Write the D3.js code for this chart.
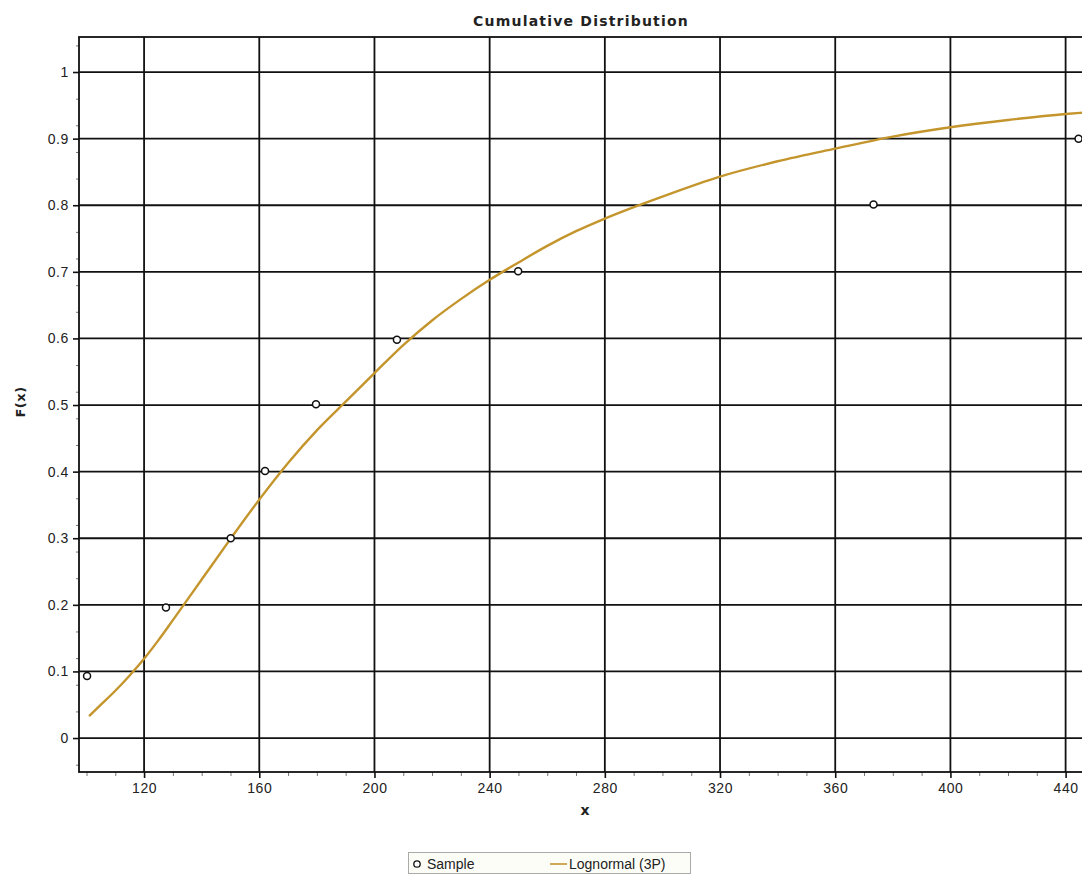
<!DOCTYPE html>
<html>
<head>
<meta charset="utf-8">
<title>Cumulative Distribution</title>
<style>
  body { margin: 0; background: #fff; }
  svg { display: block; }
</style>
</head>
<body>
<script src="https://d3js.org/d3.v7.min.js"></script>
<script>
// sample points (x, F(x))
var sampleX = [100.2, 127.6, 150.1, 162.0, 179.7, 207.8, 249.9, 373.3, 444.5];
var sampleF = [0.093, 0.196, 0.300, 0.401, 0.501, 0.598, 0.701, 0.801, 0.900];

// fitted Lognormal (3P) curve
var curveX = [100.9, 105, 110, 115, 120, 125, 130, 140, 150, 160, 170, 180, 190, 200,
              210, 220, 230, 240, 250, 260, 270, 280, 300, 320, 340, 360, 380, 400, 420, 440, 446];
var curveF = [0.033, 0.050, 0.071, 0.094, 0.119, 0.147, 0.177, 0.238, 0.299, 0.358, 0.413, 0.462, 0.505, 0.548,
              0.590, 0.627, 0.659, 0.688, 0.714, 0.739, 0.761, 0.780, 0.813, 0.843, 0.866, 0.885, 0.903, 0.917, 0.928, 0.937, 0.939];

var xTicks = [120, 160, 200, 240, 280, 320, 360, 400, 440];
var yTicks = [0, 0.1, 0.2, 0.3, 0.4, 0.5, 0.6, 0.7, 0.8, 0.9, 1];
var yTickLabels = ["0", "0.1", "0.2", "0.3", "0.4", "0.5", "0.6", "0.7", "0.8", "0.9", "1"];

var width = 1082, height = 875;
var plot = {left: 79, right: 1083, top: 37, bottom: 772};

var svg = d3.select("body").append("svg").attr("width", width).attr("height", height);

var x = d3.scaleLinear().domain([97.4, 446.04]).range([plot.left, plot.right]);
var y = d3.scaleLinear().domain([-0.051, 1.0526]).range([plot.bottom, plot.top]);

svg.append("clipPath").attr("id", "clip")
  .append("rect").attr("x", plot.left).attr("y", plot.top)
  .attr("width", plot.right - plot.left).attr("height", plot.bottom - plot.top);

// minor ticks
var xMinor = d3.range(100, 446, 10).filter(function(d){ return xTicks.indexOf(d) < 0; });
var yMinor = d3.range(-2, 53, 2).map(function(d){ return d / 50; })
  .filter(function(d){ return Math.round(d * 50) % 5 != 0; });
svg.append("g")
  .attr("transform", "translate(0," + plot.bottom + ")")
  .call(d3.axisBottom(x).tickValues(xMinor).tickSize(4).tickFormat(""))
  .call(function(g){ g.select(".domain").remove(); g.selectAll("line").attr("stroke", "#777"); });
svg.append("g")
  .attr("transform", "translate(" + plot.left + ",0)")
  .call(d3.axisLeft(y).tickValues(yMinor).tickSize(3).tickFormat(""))
  .call(function(g){ g.select(".domain").remove(); g.selectAll("line").attr("stroke", "#777"); });

// grid
svg.append("g").selectAll("line").data(xTicks).enter().append("line")
  .attr("x1", function(d){ return x(d); }).attr("x2", function(d){ return x(d); })
  .attr("y1", plot.top).attr("y2", plot.bottom)
  .attr("stroke", "#111").attr("stroke-width", 1.8);
svg.append("g").selectAll("line").data(yTicks).enter().append("line")
  .attr("x1", plot.left).attr("x2", plot.right)
  .attr("y1", function(d){ return y(d); }).attr("y2", function(d){ return y(d); })
  .attr("stroke", "#111").attr("stroke-width", 1.8);

// border
svg.append("rect")
  .attr("x", plot.left).attr("y", plot.top)
  .attr("width", plot.right - plot.left).attr("height", plot.bottom - plot.top)
  .attr("fill", "none").attr("stroke", "#111").attr("stroke-width", 1.8);

// axes
var xAxis = svg.append("g")
  .attr("transform", "translate(0," + plot.bottom + ")")
  .call(d3.axisBottom(x).tickValues(xTicks).tickSize(6).tickPadding(5));
xAxis.select(".domain").remove();
xAxis.selectAll("line").attr("stroke", "#111").attr("stroke-width", 1.6);
xAxis.selectAll("text").attr("font-family", "Liberation Sans, Arial, sans-serif")
  .attr("font-size", 14).attr("fill", "#222").attr("letter-spacing", 0.6);

var yAxis = svg.append("g")
  .attr("transform", "translate(" + plot.left + ",0)")
  .call(d3.axisLeft(y).tickValues(yTicks).tickSize(6).tickPadding(4)
    .tickFormat(function(d, i){ return yTickLabels[i]; }));
yAxis.select(".domain").remove();
yAxis.selectAll("line").attr("stroke", "#111").attr("stroke-width", 1.6);
yAxis.selectAll("text").attr("font-family", "Liberation Sans, Arial, sans-serif")
  .attr("font-size", 14).attr("fill", "#222").attr("letter-spacing", 0.6);

// curve
var curve = curveX.map(function(d, i){ return [d, curveF[i]]; });
svg.append("path")
  .datum(curve)
  .attr("clip-path", "url(#clip)")
  .attr("fill", "none")
  .attr("stroke", "#c4952c")
  .attr("stroke-width", 2.4)
  .attr("d", d3.line().x(function(d){ return x(d[0]); }).y(function(d){ return y(d[1]); }).curve(d3.curveMonotoneX));

// sample points
svg.append("g").selectAll("circle")
  .data(sampleX).enter().append("circle")
  .attr("cx", function(d){ return x(d); })
  .attr("cy", function(d, i){ return y(sampleF[i]); })
  .attr("r", 3.5)
  .attr("fill", "#fff").attr("stroke", "#111").attr("stroke-width", 1.5);

// titles
svg.append("text")
  .attr("x", (plot.left + plot.right) / 2).attr("y", 26)
  .attr("text-anchor", "middle")
  .attr("font-family", "DejaVu Sans, sans-serif").attr("font-weight", "bold")
  .attr("font-size", 14).attr("letter-spacing", 1.2).attr("fill", "#222")
  .text("Cumulative Distribution");
svg.append("text")
  .attr("x", 585).attr("y", 815)
  .attr("text-anchor", "middle")
  .attr("font-family", "DejaVu Sans, sans-serif").attr("font-weight", "bold")
  .attr("font-size", 14).attr("fill", "#222")
  .text("x");
svg.append("text")
  .attr("transform", "translate(25,402) rotate(-90)")
  .attr("text-anchor", "middle")
  .attr("font-family", "DejaVu Sans, sans-serif").attr("font-weight", "bold")
  .attr("font-size", 13).attr("letter-spacing", 0.5).attr("fill", "#222")
  .text("F(x)");

// legend
var lg = svg.append("g");
lg.append("rect").attr("x", 408.5).attr("y", 852.5).attr("width", 282).attr("height", 21)
  .attr("fill", "#fdfdf8").attr("stroke", "#aaa");
lg.append("circle").attr("cx", 417).attr("cy", 864).attr("r", 3.2)
  .attr("fill", "#fff").attr("stroke", "#111").attr("stroke-width", 1.3);
lg.append("text").attr("x", 427).attr("y", 869)
  .attr("font-family", "Liberation Sans, Arial, sans-serif").attr("font-size", 14).attr("fill", "#222")
  .text("Sample");
lg.append("line").attr("x1", 550).attr("x2", 567).attr("y1", 864).attr("y2", 864)
  .attr("stroke", "#c4952c").attr("stroke-width", 1.6);
lg.append("text").attr("x", 569).attr("y", 869)
  .attr("font-family", "Liberation Sans, Arial, sans-serif").attr("font-size", 14).attr("fill", "#222")
  .text("Lognormal (3P)");
</script>
</body>
</html>
